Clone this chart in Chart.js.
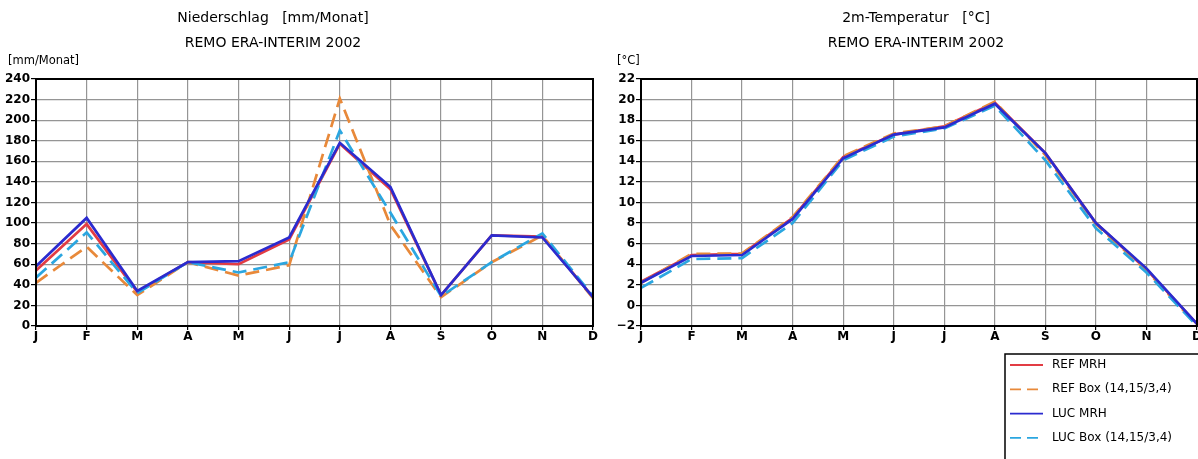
<!DOCTYPE html>
<html>
<head>
<meta charset="utf-8">
<script src="https://cdn.jsdelivr.net/npm/chart.js@4/dist/chart.umd.min.js"></script>
<style>
body { margin: 0; background: #fff; }
#wrap { position: relative; width: 1198px; height: 459px; overflow: hidden; }
canvas { position: absolute; top: 0; }
</style>
</head>
<body>
<div id="wrap">
	<canvas id="niederschlag" width="600" height="459" style="left:0"></canvas>
	<canvas id="temperatur" width="598" height="459" style="left:600px"></canvas>
</div>
<script>
var monate = ['J', 'F', 'M', 'A', 'M', 'J', 'J', 'A', 'S', 'O', 'N', 'D'];
var serien = ['REF MRH', 'REF Box (14,15/3,4)', 'LUC MRH', 'LUC Box (14,15/3,4)'];

// Niederschlag [mm/Monat]
var nsRefMrh = [54, 99, 33, 62, 60, 84, 177, 133, 30, 88, 87, 28];
var nsRefBox = [42, 77, 30, 62, 49, 59, 221, 98, 28, 62, 88, 27];
var nsLucMrh = [58, 105, 34, 62, 63, 86, 178, 135, 30, 88, 86, 28];
var nsLucBox = [47, 91, 32, 62, 52, 62, 190, 110, 29, 62, 90, 29];

// 2m-Temperatur [°C]
var tRefMrh = [2.3, 4.9, 5.0, 8.5, 14.4, 16.6, 17.4, 19.7, 14.8, 8.0, 3.5, -1.8];
var tRefBox = [2.2, 5.0, 5.05, 8.6, 14.5, 16.7, 17.4, 19.8, 14.6, 7.9, 3.4, -1.9];
var tLucMrh = [2.2, 4.8, 4.9, 8.4, 14.3, 16.6, 17.3, 19.6, 14.8, 8.0, 3.6, -1.8];
var tLucBox = [1.7, 4.5, 4.6, 8.0, 14.1, 16.4, 17.2, 19.4, 14.1, 7.5, 3.2, -2.0];

var farben = ['#e23c44', '#e8893a', '#2b2bcf', '#2ba6e0'];
var striche = [[], [14, 7], [], [14, 7]];
var reihenfolge = [4, 3, 1, 2];

var schrift = '"DejaVu Sans", sans-serif';

function datensaetze(werte){
	return werte.map(function(w, i){
		return {
			label: serien[i],
			data: w,
			borderColor: farben[i],
			backgroundColor: farben[i],
			borderDash: striche[i],
			borderWidth: 2.7,
			pointRadius: 0,
			tension: 0,
			fill: false,
			order: reihenfolge[i]
		};
	});
}

// Titel, Einheit und Rahmen um den Plotbereich
var rahmenPlugin = {
	id: 'rahmen',
	afterDraw: function(chart, args, opts){
		var ctx = chart.ctx;
		var a = chart.chartArea;
		ctx.save();
		ctx.strokeStyle = '#000';
		ctx.lineWidth = 2;
		ctx.strokeRect(a.left, a.top, a.right - a.left, a.bottom - a.top);
		ctx.fillStyle = '#000';
		ctx.textAlign = 'center';
		ctx.textBaseline = 'middle';
		ctx.font = '14px ' + schrift;
		ctx.fillText(opts.titel[0], opts.titelX, 18);
		ctx.fillText(opts.titel[1], opts.titelX, 43);
		ctx.textAlign = 'left';
		ctx.font = '11.5px ' + schrift;
		ctx.fillText(opts.einheit, opts.einheitX, 61);
		ctx.restore();
	}
};

// Legende im Kasten unten rechts
var legendePlugin = {
	id: 'kastenLegende',
	afterDraw: function(chart, args, opts){
		if (!opts.zeigen) { return; }
		var ctx = chart.ctx;
		ctx.save();
		ctx.strokeStyle = '#000';
		ctx.lineWidth = 1.5;
		ctx.strokeRect(opts.x, opts.y, 300, 200);
		ctx.font = '12px ' + schrift;
		ctx.textAlign = 'left';
		ctx.textBaseline = 'middle';
		ctx.fillStyle = '#000';
		chart.data.datasets.forEach(function(ds, i){
			var y = opts.y + 11 + i * 24.3;
			ctx.strokeStyle = ds.borderColor;
			ctx.lineWidth = 1.8;
			ctx.setLineDash(ds.borderDash.length ? [11, 6] : []);
			ctx.beginPath();
			ctx.moveTo(opts.x + 5, y);
			ctx.lineTo(opts.x + 38, y);
			ctx.stroke();
			ctx.setLineDash([]);
			ctx.fillText(ds.label, opts.x + 47, y);
		});
		ctx.restore();
	}
};

function achsen(min, max, schritt, breite){
	return {
		x: {
			type: 'category',
			offset: false,
			grid: { color: '#959595', lineWidth: 1.2, tickLength: 4, tickColor: '#000' },
			border: { display: false },
			ticks: {
				color: '#000',
				font: { family: schrift, size: 12, weight: 'bold' },
				autoSkip: false,
				maxRotation: 0,
				padding: 0
			},
			afterFit: function(s){
				s.height = 20;
				s.paddingLeft = 0;
				s.paddingRight = 0;
			}
		},
		y: {
			min: min,
			max: max,
			grid: { color: '#959595', lineWidth: 1.2, tickLength: 5, tickColor: '#000' },
			border: { display: false },
			ticks: {
				stepSize: schritt,
				color: '#000',
				font: { family: schrift, size: 12, weight: 'bold' },
				padding: 1,
				callback: function(v){ return v < 0 ? '\u2212' + Math.abs(v) : v; }
			},
			afterFit: function(s){ s.width = breite; }
		}
	};
}

function init_chart_niederschlag(){
	if (typeof (Chart) === 'undefined') { return; }
	new Chart(document.getElementById('niederschlag'), {
		type: 'line',
		data: { labels: monate, datasets: datensaetze([nsRefMrh, nsRefBox, nsLucMrh, nsLucBox]) },
		options: {
			responsive: false,
			animation: false,
			layout: { padding: { left: 0, right: 7, top: 79, bottom: 113 } },
			scales: achsen(0, 240, 20, 36),
			plugins: {
				legend: { display: false },
				tooltip: { enabled: false },
				rahmen: { titel: ['Niederschlag   [mm/Monat]', 'REMO ERA-INTERIM 2002'], titelX: 273, einheit: '[mm/Monat]', einheitX: 8 },
				kastenLegende: { zeigen: false }
			}
		},
		plugins: [rahmenPlugin, legendePlugin]
	});
}

function init_chart_temperatur(){
	if (typeof (Chart) === 'undefined') { return; }
	new Chart(document.getElementById('temperatur'), {
		type: 'line',
		data: { labels: monate, datasets: datensaetze([tRefMrh, tRefBox, tLucMrh, tLucBox]) },
		options: {
			responsive: false,
			animation: false,
			layout: { padding: { left: 0, right: 1, top: 79, bottom: 113 } },
			scales: achsen(-2, 22, 2, 41),
			plugins: {
				legend: { display: false },
				tooltip: { enabled: false },
				rahmen: { titel: ['2m-Temperatur   [\u00b0C]', 'REMO ERA-INTERIM 2002'], titelX: 316, einheit: '[\u00b0C]', einheitX: 17 },
				kastenLegende: { zeigen: true, x: 405, y: 354 }
			}
		},
		plugins: [rahmenPlugin, legendePlugin]
	});
}

init_chart_niederschlag();
init_chart_temperatur();
</script>
</body>
</html>
